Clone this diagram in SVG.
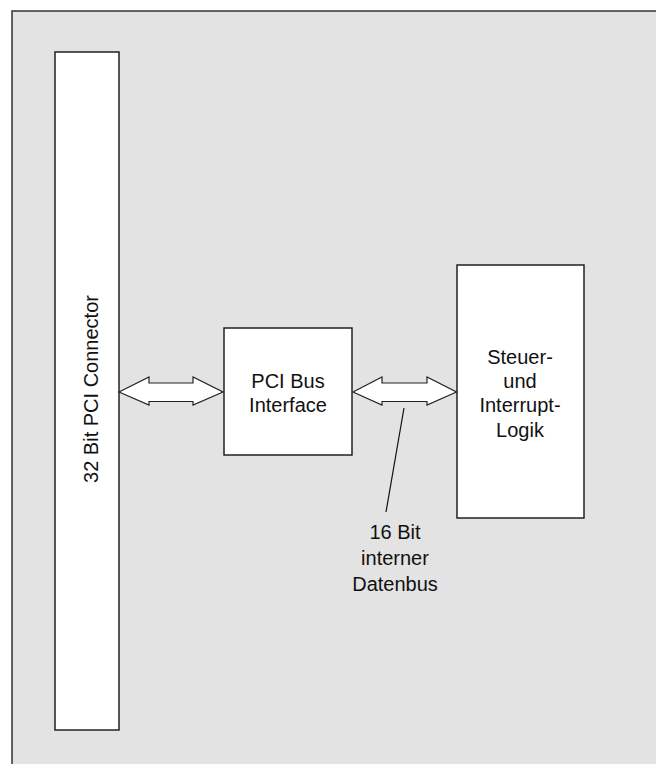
<svg xmlns="http://www.w3.org/2000/svg" width="656" height="764" viewBox="0 0 656 764">
<style>
.box{fill:#ffffff;stroke:#222;stroke-width:1.5}
.arrow{fill:#ffffff;stroke:#222;stroke-width:1.2;stroke-linejoin:miter}
.t{font-family:"Liberation Sans",Arial,sans-serif;font-size:20px;fill:#111;text-anchor:middle}
</style>
<rect x="0" y="0" width="656" height="764" fill="#ffffff"/>
<g id="frame">
<rect x="12" y="11" width="660" height="770" fill="#e3e3e3" stroke="#333" stroke-width="1.5"/>
</g>
<g id="connector">
<rect class="box" x="55" y="52" width="64" height="678"/>
<text class="t" transform="translate(98,389) rotate(-90)">32 Bit PCI Connector</text>
</g>
<g id="pci-bus-interface">
<rect class="box" x="224" y="328" width="128" height="127"/>
<text class="t" x="288" y="388">PCI Bus</text>
<text class="t" x="288" y="412">Interface</text>
</g>
<g id="steuer-logik">
<rect class="box" x="457" y="265" width="127" height="253"/>
<text class="t" x="520" y="364">Steuer-</text>
<text class="t" x="520" y="388">und</text>
<text class="t" x="520" y="412">Interrupt-</text>
<text class="t" x="520" y="437">Logik</text>
</g>
<g id="connectors">
<polygon class="arrow" points="119,392 149,377 149,383 193,383 193,377 223,392 193,405 193,401.5 149,401.5 149,405"/>
<polygon class="arrow" points="353,392 382,377 382,383 427,383 427,377 456.5,392 427,405 427,401.5 382,401.5 382,405"/>
<line x1="404" y1="408" x2="386" y2="512" stroke="#111" stroke-width="1.2"/>
</g>
<g id="bus-label">
<text class="t" x="395" y="539">16 Bit</text>
<text class="t" x="395" y="565">interner</text>
<text class="t" x="395" y="591">Datenbus</text>
</g>
</svg>
